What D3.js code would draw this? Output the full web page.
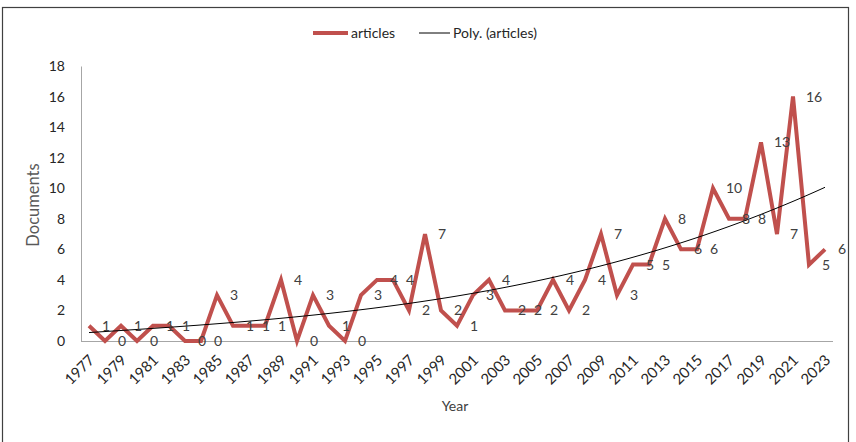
<!DOCTYPE html>
<html>
<head>
<meta charset="utf-8">
<script src="https://cdn.jsdelivr.net/npm/d3@7"></script>
<style>
  body { margin: 0; background: #fff; }
  svg { font-family: Lato, "Open Sans", sans-serif; }
</style>
</head>
<body>
<svg id="chart" width="856" height="442"></svg>
<script>
// data
var years = d3.range(1977, 2024);
var articles = [1, 0, 1, 0, 1, 1, 0, 0, 3, 1, 1, 1, 4, 0, 3, 1, 0, 3, 4, 4,
                2, 7, 2, 1, 3, 4, 2, 2, 2, 4, 2, 4, 7, 3, 5, 5, 8, 6, 6, 10,
                8, 8, 13, 7, 16, 5, 6];
var yTicks = [0, 2, 4, 6, 8, 10, 12, 14, 16, 18];
var legendLabels = ['articles', 'Poly. (articles)'];
var trendOrder = 3;

var svg = d3.select('#chart');
var m = {left: 81, right: 833, top: 66, bottom: 341};

// chart frame
svg.append('rect')
    .attr('x', 2.5).attr('y', 7.5)
    .attr('width', 846).attr('height', 450)
    .attr('fill', 'none')
    .attr('stroke', '#404040')
    .attr('stroke-width', 1.2);

var x = d3.scalePoint().domain(years).range([m.left, m.right]).padding(0.5);
var y = d3.scaleLinear().domain([0, 18]).range([m.bottom, m.top]);

// polynomial trend (least squares, x = 1..n like Excel)
function polyFit(vals, order) {
    var n = order + 1, A = [];
    for (var r = 0; r < n; r++) A.push(new Array(n + 1).fill(0));
    vals.forEach(function (v, i) {
        var xi = i + 1;
        for (var r = 0; r < n; r++) {
            for (var c = 0; c < n; c++) A[r][c] += Math.pow(xi, r + c);
            A[r][n] += v * Math.pow(xi, r);
        }
    });
    for (var c = 0; c < n; c++) {
        for (var r2 = c + 1; r2 < n; r2++) {
            var f = A[r2][c] / A[c][c];
            for (var j = c; j <= n; j++) A[r2][j] -= f * A[c][j];
        }
    }
    var b = new Array(n).fill(0);
    for (var r3 = n - 1; r3 >= 0; r3--) {
        var sum = A[r3][n];
        for (var j2 = r3 + 1; j2 < n; j2++) sum -= A[r3][j2] * b[j2];
        b[r3] = sum / A[r3][r3];
    }
    return function (xi) {
        var s = 0;
        for (var k = 0; k < n; k++) s += b[k] * Math.pow(xi, k);
        return s;
    };
}
var trend = polyFit(articles, trendOrder);

// y axis
var yAxis = svg.append('g').attr('transform', 'translate(' + m.left + ',0)')
    .call(d3.axisLeft(y).tickValues(yTicks).tickSize(0).tickPadding(16));
yAxis.select('.domain').attr('stroke', '#a6a6a6');
yAxis.selectAll('text').attr('font-size', 14).attr('fill', '#262626').attr('font-family', 'Lato');

// x axis, every second year
var xAxis = svg.append('g').attr('transform', 'translate(0,' + m.bottom + ')')
    .call(d3.axisBottom(x).tickSize(0).tickPadding(0)
        .tickValues(years.filter(function (d) { return (d - 1977) % 2 === 0; }))
        .tickFormat(d3.format('d')));
xAxis.select('.domain').attr('stroke', '#a6a6a6').attr('d', 'M' + m.left + ',0.5H' + m.right);
xAxis.selectAll('text')
    .attr('font-size', 15).attr('fill', '#262626').attr('font-family', 'Lato')
    .attr('text-anchor', 'end')
    .attr('dy', null)
    .attr('transform', 'translate(6,20) rotate(-45)');

// axis titles
svg.append('text').attr('x', 455).attr('y', 411)
    .attr('text-anchor', 'middle').attr('font-size', 14).attr('fill', '#404040')
    .text('Year');
svg.append('text')
    .attr('transform', 'translate(39,205) rotate(-90)')
    .attr('text-anchor', 'middle').attr('font-size', 16.5).attr('fill', '#595959')
    .text('Documents');

// series line
svg.append('path').datum(articles)
    .attr('fill', 'none')
    .attr('stroke', '#c0504d')
    .attr('stroke-width', 4)
    .attr('stroke-linejoin', 'miter')
    .attr('d', d3.line().x(function (d, i) { return x(years[i]); }).y(function (d) { return y(d); }));

// trend line
var trendPts = d3.range(0, articles.length - 1 + 0.01, 0.25);
svg.append('path').datum(trendPts)
    .attr('fill', 'none')
    .attr('stroke', '#000')
    .attr('stroke-width', 1)
    .attr('d', d3.line()
        .x(function (t) { return x(years[0]) + t * x.step(); })
        .y(function (t) { return y(trend(t + 1)); }));

// data labels, right of each point
svg.append('g').selectAll('text').data(articles).join('text')
    .attr('x', function (d, i) { return x(years[i]) + 13; })
    .attr('y', function (d) { return y(d); })
    .attr('dy', '0.36em')
    .attr('font-size', 14).attr('fill', '#404040')
    .text(function (d) { return d; });

// legend
var lg = svg.append('g');
lg.append('line').attr('x1', 313).attr('x2', 348).attr('y1', 33).attr('y2', 33)
    .attr('stroke', '#c0504d').attr('stroke-width', 4);
lg.append('text').attr('x', 351).attr('y', 33).attr('dy', '0.35em')
    .attr('font-size', 14).attr('fill', '#262626').text(legendLabels[0]);
lg.append('line').attr('x1', 419).attr('x2', 450).attr('y1', 33).attr('y2', 33)
    .attr('stroke', '#000').attr('stroke-width', 1);
lg.append('text').attr('x', 453).attr('y', 33).attr('dy', '0.35em')
    .attr('font-size', 14).attr('fill', '#262626').text(legendLabels[1]);
</script>
</body>
</html>
